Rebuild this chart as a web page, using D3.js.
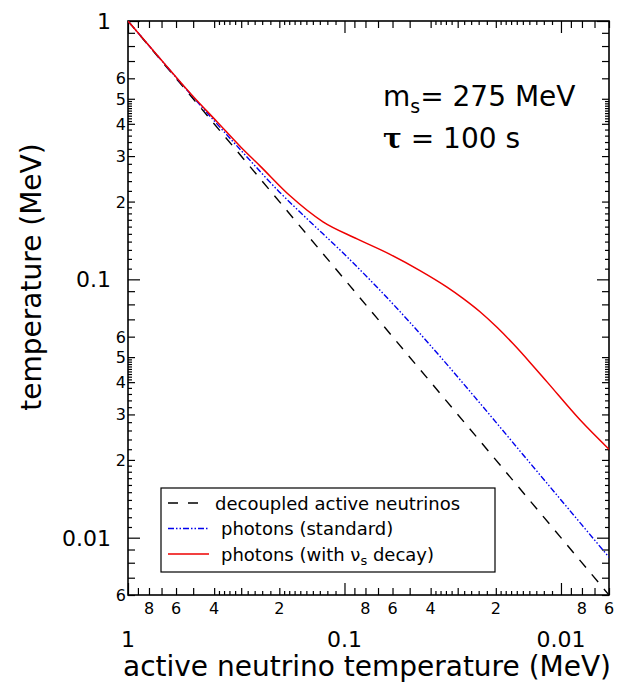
<!DOCTYPE html>
<html>
<head>
<meta charset="utf-8">
<style>
  body { margin: 0; background: #fff; }
  text { font-family: "DejaVu Sans", Verdana, sans-serif; fill: #000; }
</style>
</head>
<body>
<svg id="chart" width="617" height="684"></svg>
<script src="https://cdn.jsdelivr.net/npm/d3@7/dist/d3.min.js"></script>
<script>
// active neutrino temperature (MeV) -> temperature (MeV)
const decoupledX = [1, 0.006];
const decoupledY = [1, 0.006];

const standardX = [1, 0.7, 0.5, 0.4, 0.3, 0.2, 0.15, 0.1, 0.07, 0.05, 0.035, 0.025, 0.015, 0.01, 0.006];
const standardY = [1, 0.7035, 0.5075, 0.411, 0.315, 0.218, 0.1725, 0.125, 0.0924, 0.0683, 0.0487, 0.035, 0.021, 0.014, 0.0084];

const decayX = [1, 0.7, 0.5, 0.388, 0.3, 0.2457, 0.179, 0.1257, 0.0875, 0.0616, 0.0448, 0.0336, 0.02836, 0.02366, 0.01975, 0.01667, 0.0139, 0.0116, 0.00817, 0.006];
const decayY = [1, 0.705, 0.51, 0.4075, 0.324, 0.275, 0.211, 0.167, 0.1435, 0.125, 0.1081, 0.0933, 0.0844, 0.0749, 0.0652, 0.0564, 0.0477, 0.0401, 0.0286, 0.0220];

// tick labels
const majorTicks = [1, 0.1, 0.01];
const majorLabels = ["1", "0.1", "0.01"];
const xMinorTicks = [0.8, 0.6, 0.4, 0.2, 0.08, 0.06, 0.04, 0.02, 0.008, 0.006];
const xMinorLabels = ["8", "6", "4", "2", "8", "6", "4", "2", "8", "6"];
const yMinorTicks = [0.6, 0.5, 0.4, 0.3, 0.2, 0.06, 0.05, 0.04, 0.03, 0.02, 0.006];
const yMinorLabels = ["6", "5", "4", "3", "2", "6", "5", "4", "3", "2", "6"];

const legendLabels = ["decoupled active neutrinos", "photons (standard)", "photons (with "];

const pLeft = 128, pRight = 609, pTop = 21, pBottom = 595;

const svg = d3.select("#chart");

const x = d3.scaleLog().domain([1, 0.006]).range([pLeft, pRight]);
const y = d3.scaleLog().domain([1, 0.006]).range([pTop, pBottom]);

// tick values: majors, 2..9 minors, and finer ticks KaleidaGraph style
function tickSets(fineY) {
  const major = [], minor = [], fine = [];
  [1, 0.1, 0.01, 0.001].forEach(d => {
    major.push(d);
    for (let k = 2; k <= 9; k++) minor.push(k * d / 10);
    for (let k = 11; k <= 19; k++) fine.push(k * d / 100);
    for (let k = 22; k <= 38; k += 2) if (k != 30) fine.push(k * d / 100);
    if (fineY) for (let k = 41; k <= 49; k++) fine.push(k * d / 100);
  });
  const inside = v => v <= 1 && v >= 0.006 - 1e-9;
  return { major: major.filter(inside), minor: minor.filter(inside), fine: fine.filter(inside) };
}

function drawTicks(axis, scale, sets, transform) {
  [["major", 12], ["minor", 7], ["fine", 4]].forEach(([k, len]) => {
    svg.append("g")
      .attr("transform", transform)
      .call(axis(scale).tickValues(sets[k]).tickSize(-len).tickFormat(""))
      .call(g => g.select(".domain").remove())
      .call(g => g.selectAll("line").attr("stroke", "#000").attr("stroke-width", 1.2));
  });
}

const xs = tickSets(false), ys = tickSets(true);
drawTicks(d3.axisBottom, x, xs, `translate(0,${pBottom})`);
drawTicks(d3.axisTop, x, xs, `translate(0,${pTop})`);
drawTicks(d3.axisLeft, y, ys, `translate(${pLeft},0)`);
drawTicks(d3.axisRight, y, ys, `translate(${pRight},0)`);

// frame
svg.append("rect")
  .attr("x", pLeft).attr("y", pTop)
  .attr("width", pRight - pLeft).attr("height", pBottom - pTop)
  .attr("fill", "none").attr("stroke", "#000").attr("stroke-width", 1.6);

// tick labels
svg.append("g").selectAll("text")
  .data(majorTicks)
  .join("text")
  .attr("x", d => x(d)).attr("y", 647)
  .attr("text-anchor", "middle").style("font-size", "22px")
  .text((d, i) => majorLabels[i]);

svg.append("g").selectAll("text")
  .data(xMinorTicks)
  .join("text")
  .attr("x", d => x(d)).attr("y", 614)
  .attr("text-anchor", "middle").style("font-size", "16px")
  .text((d, i) => xMinorLabels[i]);

svg.append("g").selectAll("text")
  .data(majorTicks)
  .join("text")
  .attr("x", 111).attr("y", d => y(d) + 8)
  .attr("text-anchor", "end").style("font-size", "22px")
  .text((d, i) => majorLabels[i]);

svg.append("g").selectAll("text")
  .data(yMinorTicks)
  .join("text")
  .attr("x", 126).attr("y", d => y(d) + 6)
  .attr("text-anchor", "end").style("font-size", "16px")
  .text((d, i) => yMinorLabels[i]);

// axis titles
svg.append("text")
  .attr("x", 367).attr("y", 676)
  .attr("text-anchor", "middle").style("font-size", "28px")
  .text("active neutrino temperature (MeV)");

svg.append("text")
  .attr("transform", "translate(41,277)rotate(-90)")
  .attr("text-anchor", "middle").style("font-size", "28px")
  .text("temperature (MeV)");

// curves
svg.append("clipPath").attr("id", "plotclip")
  .append("rect").attr("x", pLeft).attr("y", pTop)
  .attr("width", pRight - pLeft).attr("height", pBottom - pTop);

const line = d3.line()
  .x(d => x(d[0]))
  .y(d => y(d[1]))
  .curve(d3.curveMonotoneX);

const curves = svg.append("g").attr("clip-path", "url(#plotclip)");

curves.append("path")
  .datum(decoupledX.map((v, i) => [v, decoupledY[i]]))
  .attr("d", line)
  .attr("fill", "none").attr("stroke", "#000")
  .attr("stroke-width", 1.4).attr("stroke-dasharray", "10,9");

curves.append("path")
  .datum(standardX.map((v, i) => [v, standardY[i]]))
  .attr("d", line)
  .attr("fill", "none").attr("stroke", "#0000ee")
  .attr("stroke-width", 1.4).attr("stroke-dasharray", "6,2,1.5,2,1.5,2");

curves.append("path")
  .datum(decayX.map((v, i) => [v, decayY[i]]))
  .attr("d", line)
  .attr("fill", "none").attr("stroke", "#ee0000")
  .attr("stroke-width", 1.5);

// annotation
const ann = svg.append("text").attr("x", 383).attr("y", 106).style("font-size", "28px");
ann.append("tspan").text("m");
ann.append("tspan").attr("dy", 7).style("font-size", "19px").text("s");
ann.append("tspan").attr("dy", -7).text("= 275 MeV");

const tau = svg.append("text").attr("x", 383).attr("y", 148).style("font-size", "28px");
tau.append("tspan").style("font-weight", "bold").style("font-family", "'DejaVu Serif', serif").text("τ");
tau.append("tspan").text(" = 100 s");

// legend
const lg = svg.append("g");
lg.append("rect")
  .attr("x", 161).attr("y", 488).attr("width", 334).attr("height", 84)
  .attr("fill", "#fff").attr("stroke", "#000").attr("stroke-width", 1.2);

const rows = [
  { stroke: "#000", dash: "10,10", x1: 168, x2: 198, tx: 215 },
  { stroke: "#0000ee", dash: "6,2,1.5,2,1.5,2", x1: 168, x2: 209, tx: 221 },
  { stroke: "#ee0000", dash: null, x1: 168, x2: 209, tx: 221 }
];
rows.forEach((r, i) => {
  const cy = 503 + i * 25.5;
  lg.append("line")
    .attr("x1", r.x1).attr("x2", r.x2).attr("y1", cy).attr("y2", cy)
    .attr("stroke", r.stroke).attr("stroke-width", 1.4)
    .attr("stroke-dasharray", r.dash);
  const t = lg.append("text").attr("x", r.tx).attr("y", cy + 6.5).style("font-size", "18px")
    .text(legendLabels[i]);
  if (i == 2) {
    t.append("tspan").text("ν");
    t.append("tspan").attr("dy", 4).style("font-size", "13px").text("s");
    t.append("tspan").attr("dy", -4).text(" decay)");
  }
});
</script>
</body>
</html>
